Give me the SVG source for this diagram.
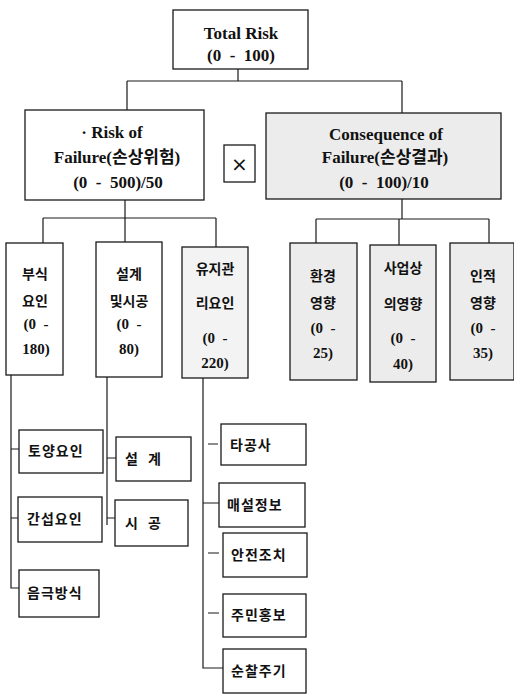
<svg xmlns="http://www.w3.org/2000/svg" width="514" height="695" viewBox="0 0 514 695">
<style>
.box{fill:#fff;stroke:#1a1a1a;stroke-width:1.3}
.gbox{fill:#ececec;stroke:#1a1a1a;stroke-width:1.3}
.ln{fill:none;stroke:#1a1a1a;stroke-width:1.2}
text{font-family:"Liberation Serif","Noto Sans CJK KR",serif;font-weight:bold;fill:#111;font-size:15px;white-space:pre}
.big{font-size:17px}
.c{text-anchor:middle}
.h{font-size:14px}
.k{font-size:14px;letter-spacing:1px}
</style>
<rect width="514" height="695" fill="#fff"/>
<g id="connectors">
<path class="ln" d="M238,69 V81 M127,81 H402 M127,81 V110 M402,81 V113"/>
<path class="ln" d="M125,200 V218 M43,218 H216 M43,218 V243 M125,218 V242 M216,218 V247"/>
<path class="ln" d="M402,199 V219 M316,219 H489 M316,219 V243 M399,219 V245 M489,219 V243"/>
<path class="ln" d="M11,375 V588 H19 M11,449 H19 M11,518 H18"/>
<path class="ln" d="M107,377 V525 M107,458 H116 M107,518 H115"/>
<path class="ln" d="M203,378 V668 H223 M208,444 H218 M203,503 H219 M208,553 H219 M208,613 H219"/>
</g>
<g id="total">
<rect class="box" x="173" y="10" width="135" height="59"/>
<text class="c big" x="241" y="39">Total Risk</text>
<text class="c big" x="241" y="61">(0  -  100)</text>
</g>
<g id="risk">
<rect class="box" x="25" y="110" width="179" height="90"/>
<text class="c big" x="112" y="138">· Risk of</text>
<text class="c big" x="117" y="163">Failure(손상위험)</text>
<text class="c big" x="118" y="188">(0  -  500)/50</text>
</g>
<g id="times">
<rect class="box" x="224" y="145" width="31" height="37"/>
<text class="c" x="239.5" y="171" style="font-size:20px;font-weight:normal;font-family:'DejaVu Sans',sans-serif">×</text>
</g>
<g id="consequence">
<rect class="gbox" x="266" y="113" width="235" height="86"/>
<text class="c big" x="386" y="140">Consequence of</text>
<text class="c big" x="385" y="163">Failure(손상결과)</text>
<text class="c big" x="384" y="188">(0  -  100)/10</text>
</g>
<g id="corrosion">
<rect class="box" x="6" y="243" width="57" height="132"/>
<text class="c h" x="35" y="279">부식</text>
<text class="c h" x="35" y="306">요인</text>
<text class="c" x="36" y="329">(0  -</text>
<text class="c" x="36" y="354">180)</text>
</g>
<g id="design">
<rect class="box" x="96" y="242" width="66" height="135"/>
<text class="c h" x="129" y="279">설계</text>
<text class="c h" x="129" y="306">및시공</text>
<text class="c" x="129" y="329">(0  -</text>
<text class="c" x="129" y="354">80)</text>
</g>
<g id="maintenance">
<rect class="gbox" x="182" y="247" width="66" height="131" style="fill:#f3f3f3"/>
<text class="c h" x="215" y="274">유지관</text>
<text class="c h" x="215" y="308">리요인</text>
<text class="c" x="215" y="343">(0  -</text>
<text class="c" x="215" y="368">220)</text>
</g>
<g id="env">
<rect class="gbox" x="290" y="243" width="67" height="137"/>
<text class="c h" x="323" y="281">환경</text>
<text class="c h" x="323" y="308">영향</text>
<text class="c" x="323" y="333">(0  -</text>
<text class="c" x="323" y="358">25)</text>
</g>
<g id="business">
<rect class="gbox" x="370" y="245" width="66" height="137"/>
<text class="c h" x="403" y="273">사업상</text>
<text class="c h" x="403" y="309">의영향</text>
<text class="c" x="403" y="343">(0  -</text>
<text class="c" x="403" y="369">40)</text>
</g>
<g id="human">
<rect class="gbox" x="450" y="243" width="64" height="137"/>
<text class="c h" x="483" y="281">인적</text>
<text class="c h" x="483" y="308">영향</text>
<text class="c" x="483" y="333">(0  -</text>
<text class="c" x="483" y="358">35)</text>
</g>
<g id="soil">
<rect class="box" x="19" y="430" width="84" height="43"/>
<text class="k" x="28" y="456">토양요인</text>
</g>
<g id="interference">
<rect class="box" x="18" y="497" width="84" height="45"/>
<text class="k" x="27" y="524">간섭요인</text>
</g>
<g id="cathodic">
<rect class="box" x="19" y="570" width="80" height="47"/>
<text class="k" x="27" y="598">음극방식</text>
</g>
<g id="design2">
<rect class="box" x="116" y="437" width="75" height="44"/>
<text class="k" x="125" y="464">설  계</text>
</g>
<g id="construction">
<rect class="box" x="115" y="500" width="73" height="46"/>
<text class="k" x="125" y="528">시  공</text>
</g>
<g id="otherwork">
<rect class="box" x="221" y="424" width="85" height="41"/>
<text class="k" x="230" y="450">타공사</text>
</g>
<g id="burial">
<rect class="box" x="219" y="483" width="86" height="44"/>
<text class="k" x="227" y="510">매설정보</text>
</g>
<g id="safety">
<rect class="box" x="223" y="533" width="84" height="44"/>
<text class="k" x="231" y="560">안전조치</text>
</g>
<g id="publicity">
<rect class="box" x="223" y="594" width="83" height="43"/>
<text class="k" x="231" y="620">주민홍보</text>
</g>
<g id="patrol">
<rect class="box" x="223" y="649" width="83" height="44"/>
<text class="k" x="231" y="676">순찰주기</text>
</g>
</svg>
